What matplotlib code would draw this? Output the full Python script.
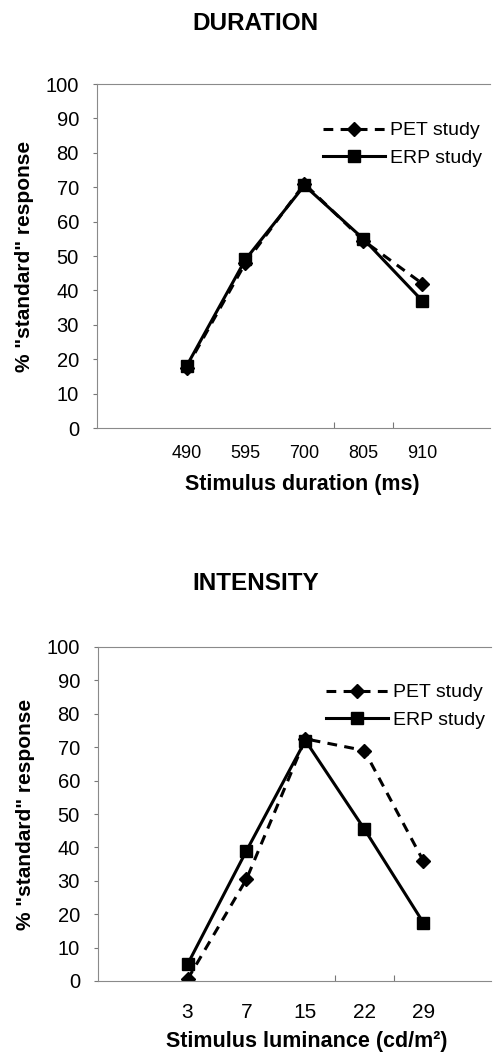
import numpy as np
import matplotlib
matplotlib.use("Agg")
import matplotlib.pyplot as plt

plt.rcParams['font.family'] = ['Liberation Sans', 'DejaVu Sans']

# duration panel
dur_cats = ['490', '595', '700', '805', '910']
dur_pet = [17.5, 48, 71, 54.5, 42]
dur_erp = [18, 49, 70.5, 55, 37]

# intensity panel
lum_cats = ['3', '7', '15', '22', '29']
lum_pet = [0.5, 30.5, 72.5, 69, 36]
lum_erp = [5, 39, 72, 45.5, 17.5]

yticks = list(range(0, 101, 10))

W, H = 503, 1057
fig = plt.figure(figsize=(W / 100, H / 100), dpi=100)


def panel(rect, cats, pet, erp, title, xlabel, title_y, xtick_size, xtick_pad,
          xlab_coords, leg_anchor):
    ax = fig.add_axes(rect)
    x = np.arange(len(cats))
    ax.plot(x, pet, color='black', lw=2.2, ls=(0, (3.2, 2.4)),
            marker='D', ms=7, label='PET study')
    ax.plot(x, erp, color='black', lw=2.2, ls='-',
            marker='s', ms=8.5, label='ERP study')
    ax.set_xlim(-1.52, 5.15)
    ax.set_ylim(0, 100)
    ax.set_yticks(yticks)
    ax.set_xticks(x)
    ax.set_xticklabels(cats)
    ax.set_xticks(np.arange(len(cats) - 1)[2:] + 0.5, minor=True)
    ax.tick_params(axis='y', labelsize=14.5, length=3, width=0.8,
                   color='#777777', pad=10)
    ax.tick_params(axis='x', which='major', labelsize=xtick_size, length=0,
                   pad=xtick_pad)
    ax.tick_params(axis='x', which='minor', direction='in', length=4,
                   width=0.8, color='#777777')
    for s in ['left', 'bottom', 'top']:
        ax.spines[s].set_color('#8a8a8a')
        ax.spines[s].set_linewidth(0.8)
    ax.spines['right'].set_visible(False)
    ax.set_ylabel('% "standard" response', fontsize=15, fontweight='bold')
    ax.yaxis.set_label_coords(-0.16, 0.5)
    ax.set_xlabel(xlabel, fontsize=15.5, fontweight='bold')
    ax.xaxis.set_label_coords(*xlab_coords)
    ax.legend(loc='upper left', bbox_to_anchor=leg_anchor, frameon=False,
              fontsize=14, handlelength=3.2, handletextpad=0.25,
              labelspacing=0.5, borderpad=0, borderaxespad=0)
    fig.text(0.508, title_y, title, ha='center', va='center',
             fontsize=17.5, fontweight='bold')
    return ax


panel([97 / W, 1 - 428 / H, 393 / W, 344 / H], dur_cats, dur_pet, dur_erp,
      'DURATION', 'Stimulus duration (ms)', 1 - 23 / H, 13, 12,
      (0.522, -0.134), (0.575, 0.89))
panel([98 / W, 1 - 981 / H, 393 / W, 334 / H], lum_cats, lum_pet, lum_erp,
      'INTENSITY', 'Stimulus luminance (cd/m²)', 1 - 584 / H, 15, 16,
      (0.53, -0.15), (0.58, 0.89))

fig.savefig('out.png', dpi=100)
